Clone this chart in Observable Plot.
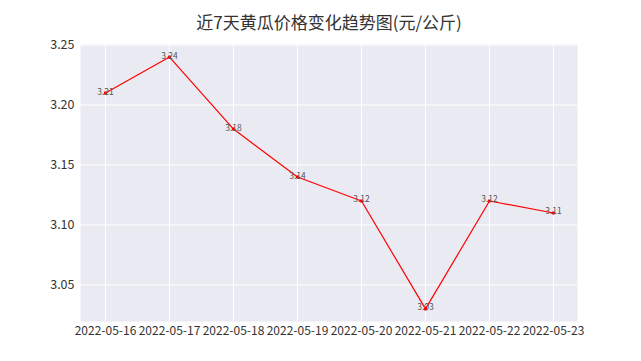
<!DOCTYPE html>
<html>
<head>
<meta charset="utf-8">
<script src="https://cdn.jsdelivr.net/npm/d3@7"></script>
<script src="https://cdn.jsdelivr.net/npm/@observablehq/plot@0.6"></script>
<style>
  html, body { margin: 0; padding: 0; background: #fff; }
  #chart svg { display: block; }
</style>
</head>
<body>
<div id="chart"></div>
<script>
const title = "近7天黄瓜价格变化趋势图(元/公斤)";
const dates = ["2022-05-16","2022-05-17","2022-05-18","2022-05-19","2022-05-20","2022-05-21","2022-05-22","2022-05-23"];
const prices = [3.21, 3.24, 3.18, 3.14, 3.12, 3.03, 3.12, 3.11];
const yTicks = [3.05, 3.10, 3.15, 3.20, 3.25];

const data = dates.map((d, i) => ({date: d, price: prices[i]}));
const font = "'Noto Sans CJK SC', 'DejaVu Sans', sans-serif";

const chart = Plot.plot({
  width: 641,
  height: 361,
  marginLeft: 80,
  marginRight: 64,
  marginTop: 44,
  marginBottom: 40,
  style: {fontFamily: font, background: "#fff", color: "#333"},
  x: {type: "point", domain: dates, padding: 0.35, label: null, tickSize: 0, tickPadding: 5},
  y: {domain: [3.0195, 3.2505], ticks: yTicks, tickFormat: d3.format(".2f"), label: null, tickSize: 0, tickPadding: 6},
  marks: [
    Plot.frame({fill: "#EAEAF2", stroke: null}),
    Plot.gridX({stroke: "#fff", strokeOpacity: 1, strokeWidth: 1}),
    Plot.gridY(yTicks, {stroke: "#fff", strokeOpacity: 1, strokeWidth: 1}),
    Plot.axisX({tickSize: 0, tickPadding: 5, fontSize: 12, fill: "#333", label: null}),
    Plot.axisY(yTicks, {tickSize: 0, tickPadding: 6, fontSize: 12.5, fill: "#333", tickFormat: d3.format(".2f"), label: null}),
    Plot.line(data, {x: "date", y: "price", stroke: "#ff0000", strokeWidth: 1.2}),
    Plot.dot(data, {x: "date", y: "price", fill: "#ff0000", r: 1.8, stroke: null}),
    Plot.text(data, {x: "date", y: "price", text: d => d.price.toFixed(2), fontSize: 8.5, fill: "#555", textAnchor: "middle", lineAnchor: "bottom", dy: 1.5}),
    Plot.text([title], {frameAnchor: "top", text: d => d, dy: -28, fontSize: 17, fill: "#333"})
  ]
});
document.getElementById("chart").appendChild(chart);
</script>
</body>
</html>
